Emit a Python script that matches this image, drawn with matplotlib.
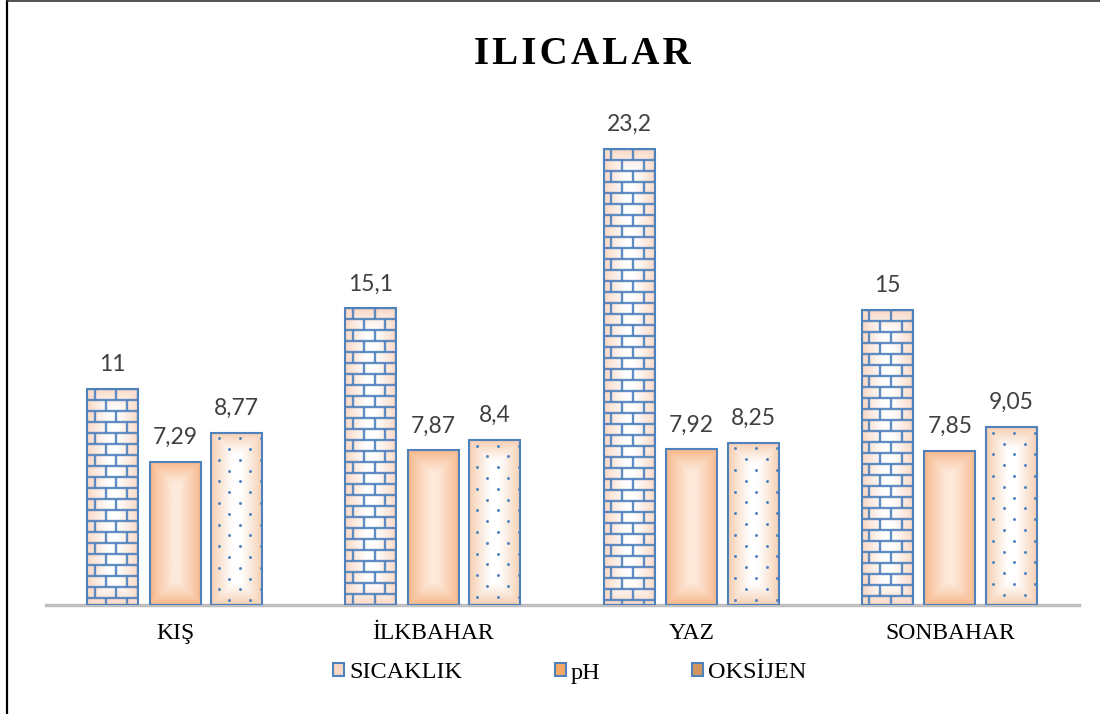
import numpy as np
import matplotlib.pyplot as plt
from matplotlib.patches import Patch
from matplotlib.collections import LineCollection
from matplotlib.lines import Line2D
from matplotlib.colors import to_rgb

seasons = ['KIŞ', 'İLKBAHAR', 'YAZ', 'SONBAHAR']
series_names = ['SICAKLIK', 'pH', 'OKSİJEN']
sicaklik = [11, 15.1, 23.2, 15]
ph = [7.29, 7.87, 7.92, 7.85]
oksijen = [8.77, 8.4, 8.25, 9.05]

BLUE = '#4F81BD'
SERIF = 'Liberation Serif'
SANS = 'Lato'


def fmt(v):
    return f'{v:g}'.replace('.', ',')


def px_size(ax):
    # pixels per data unit along x and y
    (ax0, ay0), (ax1, ay1) = ax.transData.transform([(0, 0), (1, 1)])
    return ax1 - ax0, ay1 - ay0


def fill_gradient(ax, bar, edge, center, soft=22):
    x0, y0 = bar.get_x(), bar.get_y()
    w, h = bar.get_width(), bar.get_height()
    (px0, py0), (px1, py1) = ax.transData.transform([(x0, y0), (x0 + w, y0 + h)])
    nx, ny = max(int(px1 - px0), 2), max(int(py1 - py0), 2)
    xs = np.arange(nx) + 0.5
    ys = np.arange(ny) + 0.5
    dx = np.minimum(xs, nx - xs)[None, :]
    dy = np.minimum(ys, ny - ys)[:, None]
    t = np.clip(np.minimum(dx, dy) / soft, 0, 1) ** 0.8
    t = t[..., None]
    img = np.array(to_rgb(edge)) * (1 - t) + np.array(to_rgb(center)) * t
    im = ax.imshow(img, extent=(x0, x0 + w, y0, y0 + h), aspect='auto',
                   zorder=1, interpolation='bilinear')
    im.set_clip_path(bar)


def draw_bricks(ax, bar, row_px=11.0, brick_px=21.7):
    sx, sy = px_size(ax)
    x0, w, h = bar.get_x(), bar.get_width(), bar.get_height()
    rh, bw = row_px / sy, brick_px / sx
    segs = []
    nrows = int(np.ceil(h / rh))
    for k in range(nrows + 1):
        y = h - k * rh
        segs.append([(x0, y), (x0 + w, y)])
        shift = 0.35 if k % 2 == 0 else 0.85
        xv = x0 + shift * bw
        while xv < x0 + w:
            segs.append([(xv, max(y - rh, 0)), (xv, y)])
            xv += bw
    lc = LineCollection(segs, colors=BLUE, linewidths=1.7, zorder=2, alpha=0.9)
    ax.add_collection(lc)
    lc.set_clip_path(bar)


def draw_dots(ax, bar, row_px=10.8, col_px=21.0):
    sx, sy = px_size(ax)
    x0, w, h = bar.get_x(), bar.get_width(), bar.get_height()
    rh, cw = row_px / sy, col_px / sx
    xs_d, ys_d = [], []
    k = 0
    y = h - 5.5 / sy
    while y > 0:
        xv = x0 + (7.7 / sx if k % 2 == 0 else 18.2 / sx)
        while xv < x0 + w:
            xs_d.append(xv)
            ys_d.append(y)
            xv += cw
        y -= rh
        k += 1
    sc = ax.scatter(xs_d, ys_d, s=4.5, color=BLUE, zorder=2, linewidths=0)
    sc.set_clip_path(bar)


fig = plt.figure(figsize=(11, 7.14), dpi=100)
ax = fig.add_axes([46 / 1100, 109 / 714, 1033 / 1100, 491 / 714])
ax.set_xlim(-0.5, 3.5)
ax.set_ylim(0, 25)

x = np.arange(len(seasons))
width = 0.198
offsets = [-0.242, 0.0, 0.238]
values = [sicaklik, ph, oksijen]
fills = [('#F9D3BE', '#FFFFFF'), ('#F6B283', '#FDE9DA'), ('#F5C9A8', '#FFFFFF')]

for i, vals in enumerate(values):
    bars = ax.bar(x + offsets[i], vals, width, facecolor='none',
                  edgecolor=BLUE, linewidth=1.5, zorder=3)
    for b, v in zip(bars, vals):
        fill_gradient(ax, b, *fills[i])
        if i == 0:
            draw_bricks(ax, b)
        elif i == 2:
            draw_dots(ax, b)
        ax.annotate(fmt(v), (b.get_x() + b.get_width() / 2, v),
                    xytext=(0, 13), textcoords='offset points',
                    ha='center', va='baseline', fontsize=16.5,
                    family=SANS, color='#404040')

ax.set_xlim(-0.5, 3.5)
ax.set_ylim(0, 25)

for side in ['top', 'right', 'left']:
    ax.spines[side].set_visible(False)
ax.spines['bottom'].set_color('#BFBFBF')
ax.spines['bottom'].set_linewidth(2.5)
ax.set_yticks([])
ax.set_xticks(x, seasons)
ax.tick_params(axis='x', length=0, pad=13, labelsize=17)
for lbl in ax.get_xticklabels():
    lbl.set_family(SERIF)

# title with a little letter spacing (hair spaces)
fig.text(582 / 1100, 1 - 55 / 714, '\u200a'.join('ILICALAR'), ha='center', va='center',
         fontsize=28, fontweight='bold', family=SERIF)

handles = [
    Patch(facecolor='#F8D5C4', edgecolor=BLUE, linewidth=1.5),
    Patch(facecolor='#F5A965', edgecolor=BLUE, linewidth=1.5),
    Patch(facecolor='#D39560', edgecolor=BLUE, linewidth=1.5),
]
fig.legend(handles, series_names, loc='center', bbox_to_anchor=(570 / 1100, 1 - 673 / 714),
           ncol=3, frameon=False, prop={'family': SERIF, 'size': 17.5},
           handlelength=0.45, handleheight=0.45, handletextpad=0.2,
           columnspacing=3.8)

# frame lines on the left and top of the figure
fig.add_artist(Line2D([6.5 / 1100, 6.5 / 1100], [0, 1], color='black', linewidth=1.6))
fig.add_artist(Line2D([6.5 / 1100, 1], [1 - 0.8 / 714, 1 - 0.8 / 714], color='#333333', linewidth=1.2))

fig.savefig('out.png', dpi=100)
